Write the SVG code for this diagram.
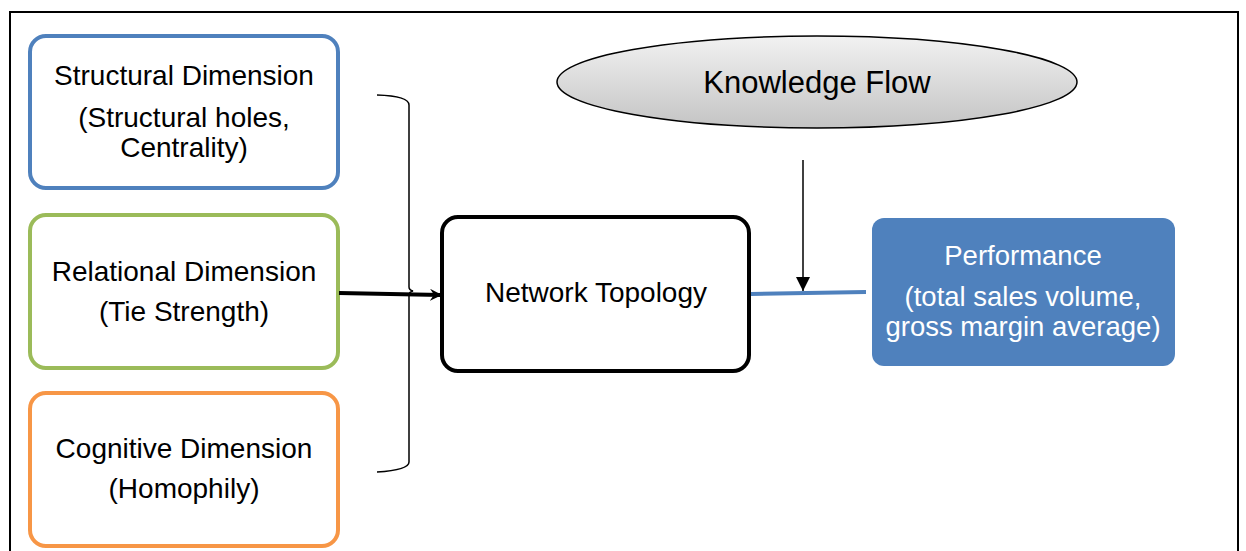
<svg xmlns="http://www.w3.org/2000/svg" width="1246" height="551" viewBox="0 0 1246 551">
  <style>
    .lbl { font-family: "Liberation Sans", "DejaVu Sans", sans-serif; font-size: 28px; fill: #000; text-anchor: middle; }
    .wlbl { font-family: "Liberation Sans", "DejaVu Sans", sans-serif; font-size: 27.5px; fill: #fff; text-anchor: middle; }
    .box { fill: #fff; stroke-width: 4; }
  </style>
  <defs>
    <linearGradient id="ellFill" x1="0" y1="0" x2="0" y2="1">
      <stop offset="0" stop-color="#f2f2f2"/>
      <stop offset="1" stop-color="#c4c4c4"/>
    </linearGradient>
    <marker id="openHead" viewBox="0 0 12 12" refX="11" refY="6" markerWidth="12" markerHeight="12" markerUnits="userSpaceOnUse" orient="auto">
      <path d="M0,0 L12,6 L0,12 L4,6 Z" fill="#000"/>
    </marker>
    <marker id="solidHead" viewBox="0 0 14 14" refX="14" refY="7" markerWidth="14" markerHeight="14" markerUnits="userSpaceOnUse" orient="auto">
      <path d="M0,0 L14,7 L0,14 Z" fill="#000"/>
    </marker>
  </defs>

  <rect x="10" y="12" width="1228" height="560" fill="none" stroke="#000" stroke-width="2"/>

  <g id="structural">
    <rect class="box" x="30" y="36" width="308" height="152" rx="16" stroke="#4f81bd"/>
    <text class="lbl" x="184" y="85">Structural Dimension</text>
    <text class="lbl" x="184" y="127">(Structural holes,</text>
    <text class="lbl" x="184" y="157">Centrality)</text>
  </g>

  <g id="relational">
    <rect class="box" x="30" y="215" width="308" height="153" rx="16" stroke="#9bbb59"/>
    <text class="lbl" x="184" y="281">Relational Dimension</text>
    <text class="lbl" x="184" y="321">(Tie Strength)</text>
  </g>

  <g id="cognitive">
    <rect class="box" x="30" y="393" width="308" height="153" rx="16" stroke="#f79646"/>
    <text class="lbl" x="184" y="458">Cognitive Dimension</text>
    <text class="lbl" x="184" y="498">(Homophily)</text>
  </g>

  <g id="network-topology">
    <rect class="box" x="442" y="217" width="307" height="154" rx="16" stroke="#000"/>
    <text class="lbl" x="596" y="302">Network Topology</text>
  </g>

  <g id="knowledge-flow">
    <ellipse cx="817" cy="82" rx="260" ry="46" fill="url(#ellFill)" stroke="#000" stroke-width="1.5"/>
    <text class="lbl" x="817" y="93" style="font-size:31px">Knowledge Flow</text>
  </g>

  <g id="performance">
    <rect x="872" y="218" width="303" height="148" rx="12" fill="#4f81bd"/>
    <text class="wlbl" x="1023" y="265">Performance</text>
    <text class="wlbl" x="1023" y="306">(total sales volume,</text>
    <text class="wlbl" x="1023" y="336">gross margin average)</text>
  </g>

  <g id="connectors" fill="none">
    <!-- brace gathering the three dimensions -->
    <path d="M377,95 Q409,96 409,105 L409,287 Q409,290 413,291 Q409,292 409,295 L409,462 Q409,470 377,472" stroke="#000" stroke-width="1.5"/>
    <line x1="339" y1="293" x2="441" y2="295" stroke="#000" stroke-width="4" marker-end="url(#openHead)"/>
    <line x1="803" y1="160" x2="803" y2="291" stroke="#000" stroke-width="1.5" marker-end="url(#solidHead)"/>
    <line x1="751" y1="294" x2="866" y2="292" stroke="#4f81bd" stroke-width="4"/>
  </g>
</svg>
